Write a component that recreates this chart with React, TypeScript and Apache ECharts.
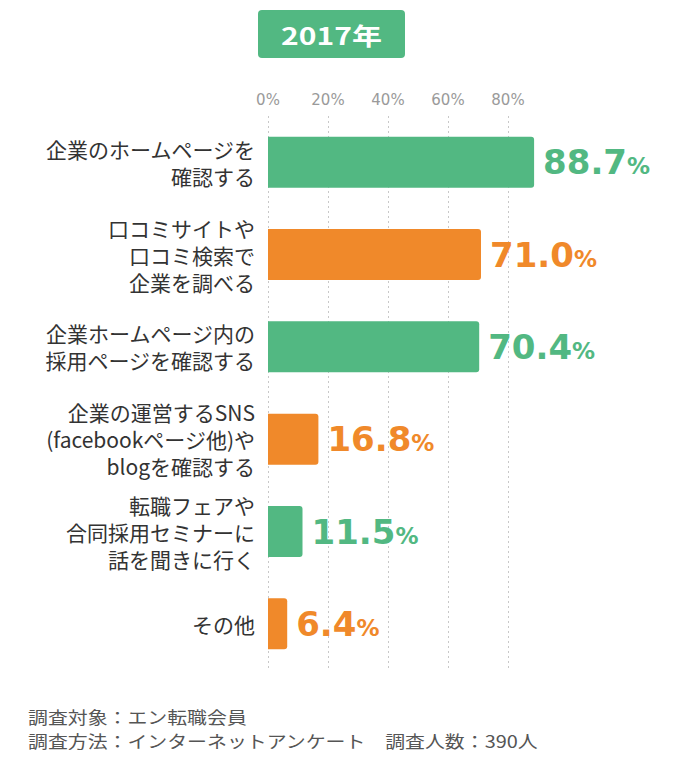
import React, { useEffect, useRef } from "react";
import * as echarts from "echarts";

const categories = [
  "企業のホームページを\n確認する",
  "口コミサイトや\n口コミ検索で\n企業を調べる",
  "企業ホームページ内の\n採用ページを確認する",
  "企業の運営するSNS\n(facebookページ他)や\nblogを確認する",
  "転職フェアや\n合同採用セミナーに\n話を聞きに行く",
  "その他",
];
const values = [88.7, 71.0, 70.4, 16.8, 11.5, 6.4];
const barColors = ["#52b882", "#f0892a", "#52b882", "#f0892a", "#52b882", "#f0892a"];
const tickValues = [0, 20, 40, 60, 80];
const titleText = "2017年";
const footerLines = [
  "調査対象：エン転職会員",
  "調査方法：インターネットアンケート　調査人数：390人",
];

const FONT = '"Noto Sans CJK JP", "Noto Sans", sans-serif';
const NUMFONT = '"DejaVu Sans", "Verdana", sans-serif';

export default function App() {
  const ref = useRef<HTMLDivElement>(null);
  useEffect(() => {
    if (!ref.current) return;
    const chart = echarts.init(ref.current, undefined, { renderer: "svg" });
    chart.setOption({
      animation: false,
      backgroundColor: "#ffffff",
      grid: { left: 268, width: 300, top: 116, bottom: 99, containLabel: false },
      xAxis: {
        type: "value",
        position: "top",
        min: 0,
        max: 100,
        interval: 20,
        axisLine: { show: false },
        axisTick: { show: false },
        axisLabel: {
          color: "#9a9a9a",
          fontSize: 15,
          fontFamily: NUMFONT,
          margin: 9,
          showMaxLabel: false,
          formatter: (v: number) => (tickValues.includes(v) ? v + "%" : ""),
        },
        splitLine: {
          show: true,
          showMaxLine: false,
          lineStyle: { color: "#c8c8c8", type: [2, 3], width: 1 },
        },
      },
      yAxis: {
        type: "category",
        inverse: true,
        data: categories,
        axisLine: { show: false },
        axisTick: { show: false },
        axisLabel: {
          color: "#333333",
          fontSize: 21,
          lineHeight: 27,
          fontFamily: FONT,
          margin: 13,
          align: "right",
        },
      },
      series: [
        {
          type: "bar",
          barWidth: 51,
          data: values.map((v, i) => ({
            value: v,
            itemStyle: { color: barColors[i], borderRadius: [0, 3, 3, 0] },
            label: {
              show: true,
              position: "right",
              distance: 9,
              formatter: (p: any) => `{n|${p.value.toFixed(1)}}{p|%}`,
              rich: {
                n: { fontSize: 34, fontWeight: "bold", color: barColors[i], fontFamily: NUMFONT },
                p: { fontSize: 23, fontWeight: "bold", color: barColors[i], fontFamily: NUMFONT, padding: [8, 0, 0, 0] },
              },
            },
          })),
        },
      ],
      graphic: [
        {
          type: "rect",
          shape: { x: 258, y: 10, width: 147, height: 48, r: 4 },
          style: { fill: "#52b882" },
        },
        {
          type: "text",
          x: 331.5,
          y: 34,
          scaleX: 1.25,
          style: {
            text: titleText,
            fill: "#ffffff",
            fontSize: 24,
            fontWeight: "bold",
            fontFamily: FONT,
            textAlign: "center",
            textVerticalAlign: "middle",
          },
        },
        ...footerLines.map((t, i) => ({
          type: "text",
          x: 28,
          y: 708 + i * 24,
          scaleX: 1.17,
          style: {
            text: t,
            fill: "#555555",
            fontSize: 17,
            fontFamily: FONT,
          },
        })),
      ],
    });
    return () => chart.dispose();
  }, []);
  return <div ref={ref} style={{ width: 676, height: 769, marginLeft: -8, marginTop: -8 }} />;
}
